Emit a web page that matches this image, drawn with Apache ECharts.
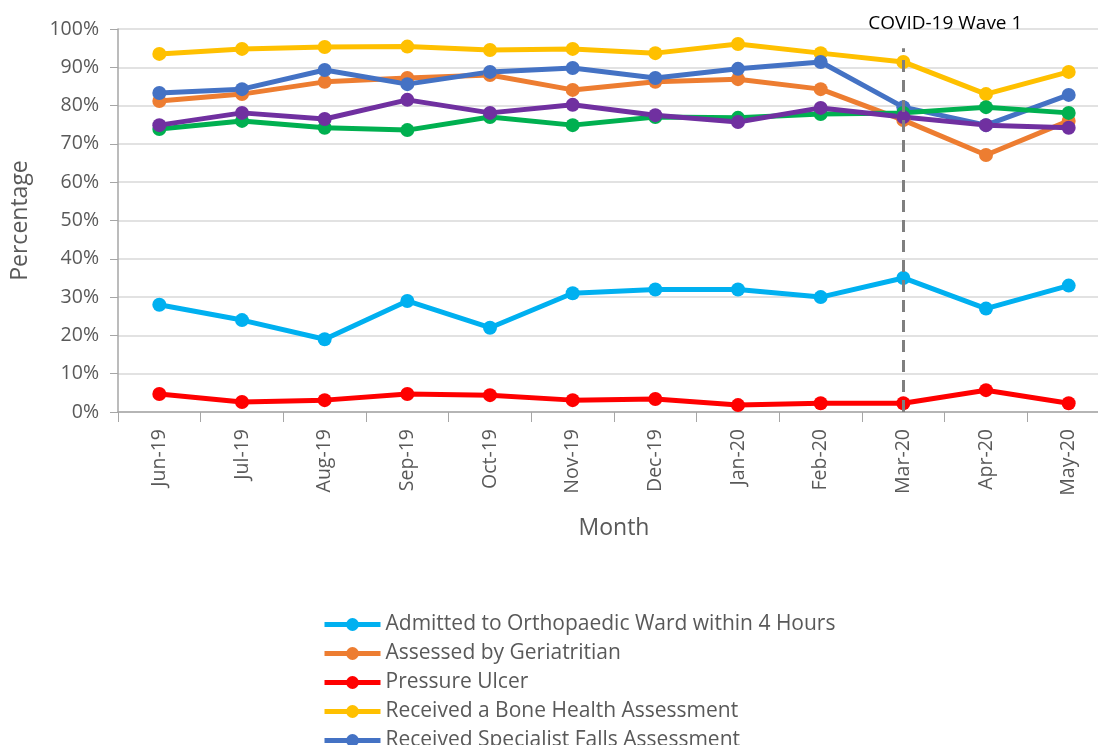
<!DOCTYPE html>
<html>
<head>
<meta charset="utf-8">
<script src="https://cdn.jsdelivr.net/npm/echarts@6/dist/echarts.min.js"></script>
<style>
  html, body { margin: 0; padding: 0; background: #fff; }
  #chart { width: 1098px; height: 745px; }
</style>
</head>
<body>
<div id="chart"></div>
<script>
// data
var months = ['Jun-19', 'Jul-19', 'Aug-19', 'Sep-19', 'Oct-19', 'Nov-19', 'Dec-19', 'Jan-20', 'Feb-20', 'Mar-20', 'Apr-20', 'May-20'];
var admitted = [28, 24, 19, 29, 22, 31, 32, 32, 30, 35, 27, 33];
var geriatrician = [81.2, 83.0, 86.2, 87.2, 88.0, 84.1, 86.2, 86.9, 84.3, 76.2, 67.1, 76.0];
var pressureUlcer = [4.7, 2.6, 3.1, 4.7, 4.4, 3.1, 3.4, 1.8, 2.3, 2.3, 5.7, 2.3];
var boneHealth = [93.5, 94.8, 95.3, 95.4, 94.5, 94.8, 93.7, 96.1, 93.7, 91.4, 83.0, 88.8];
var fallsAssess = [83.3, 84.3, 89.3, 85.6, 88.8, 89.8, 87.2, 89.6, 91.4, 79.6, 74.9, 82.8];
var greenSeries = [73.9, 76.0, 74.2, 73.6, 77.0, 74.9, 77.0, 76.8, 77.8, 78.1, 79.6, 78.1];
var purpleSeries = [74.9, 78.1, 76.5, 81.5, 78.1, 80.2, 77.5, 75.7, 79.4, 77.0, 74.9, 74.2];
var yTicks = [0, 10, 20, 30, 40, 50, 60, 70, 80, 90, 100];

var font = 'Open Sans';
var textColor = '#595959';

function lineSeries(name, data, color) {
  return {
    name: name,
    type: 'line',
    data: data,
    symbol: 'circle',
    symbolSize: 14,
    color: color,
    lineStyle: { width: 5, color: color },
    itemStyle: { color: color }
  };
}

var series = [
  lineSeries('Admitted to Orthopaedic Ward within 4 Hours', admitted, '#00b0f0'),
  lineSeries('Assessed by Geriatritian', geriatrician, '#ed7d31'),
  lineSeries('Pressure Ulcer', pressureUlcer, '#ff0000'),
  lineSeries('Received a Bone Health Assessment', boneHealth, '#ffc000'),
  lineSeries('Received Specialist Falls Assessment', fallsAssess, '#4472c4'),
  lineSeries('Mobilised Day After Surgery', greenSeries, '#00b050'),
  lineSeries('Surgery within 36 Hours', purpleSeries, '#7030a0')
];

// COVID wave marker
series[0].markLine = {
  silent: true,
  symbol: 'none',
  lineStyle: { color: '#7f7f7f', width: 3, type: [12, 8] },
  label: {
    show: true,
    position: 'end',
    formatter: 'COVID-19 Wave 1',
    fontFamily: font,
    fontSize: 19,
    color: '#000',
    offset: [42, -10]
  },
  data: [[{ coord: ['Mar-20', 0] }, { coord: ['Mar-20', 95] }]]
};

var chart = echarts.init(document.getElementById('chart'));
var option = {
  animation: false,
  backgroundColor: '#fff',
  textStyle: { fontFamily: font },
  grid: { left: 118, top: 29, width: 992, height: 383, outerBoundsMode: 'none', containLabel: false },
  legend: {
    orient: 'vertical',
    left: 317,
    top: 609,
    height: 400,
    itemWidth: 56,
    itemHeight: 16,
    itemGap: 8,
    lineStyle: { width: 5 },
    data: series.slice(0, 5).map(function (s) { return s.name; }),
    textStyle: { fontFamily: font, fontSize: 21, color: textColor, lineHeight: 21 }
  },
  xAxis: {
    type: 'category',
    data: months,
    boundaryGap: true,
    name: 'Month',
    nameLocation: 'middle',
    nameGap: 105,
    nameTextStyle: { fontFamily: font, fontSize: 23, color: textColor },
    axisLine: { lineStyle: { color: '#a6a6a6', width: 1.5 } },
    axisTick: { show: true, length: 10, lineStyle: { color: '#a6a6a6' } },
    axisLabel: { rotate: 90, fontFamily: font, fontSize: 19.5, color: textColor, margin: 17 }
  },
  yAxis: {
    type: 'value',
    min: 0,
    max: 100,
    interval: 10,
    name: 'Percentage',
    nameLocation: 'middle',
    nameGap: 86,
    nameTextStyle: { fontFamily: font, fontSize: 23, color: textColor },
    axisLine: { show: true, lineStyle: { color: '#a6a6a6', width: 1.5 } },
    axisTick: { show: true, length: 8, lineStyle: { color: '#a6a6a6' } },
    splitLine: { lineStyle: { color: '#d9d9d9', width: 1.5 } },
    axisLabel: {
      fontFamily: font,
      fontSize: 19.5,
      color: textColor,
      margin: 19,
      formatter: function (v) { return yTicks.indexOf(v) >= 0 ? v + '%' : ''; }
    }
  },
  series: series
};
chart.setOption(option);
</script>
</body>
</html>
